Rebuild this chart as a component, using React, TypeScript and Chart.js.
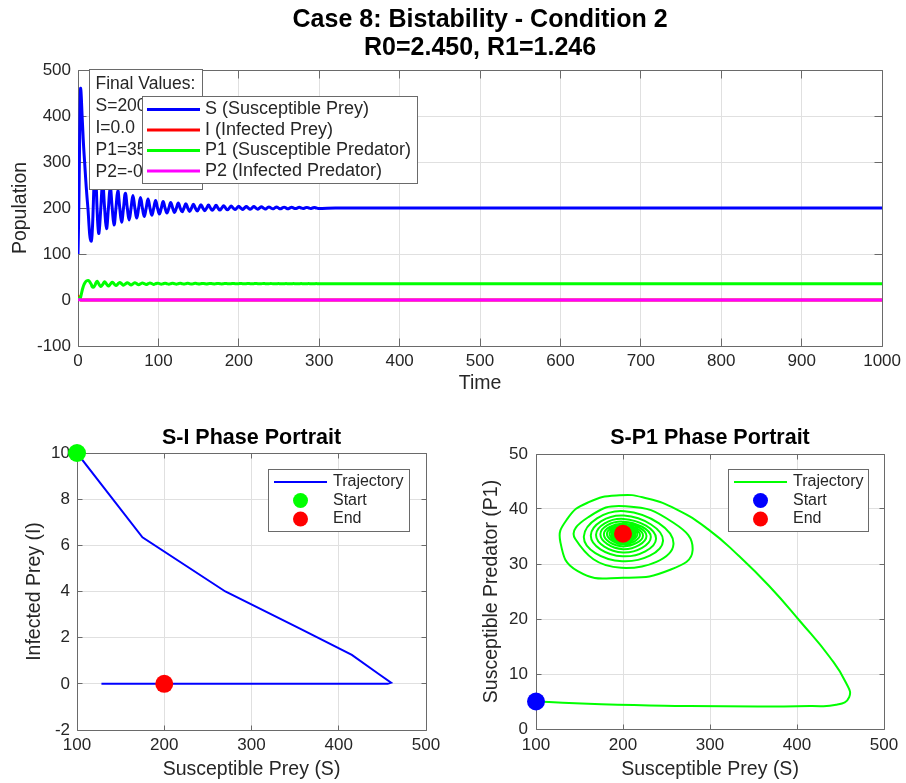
import React, { useEffect, useRef } from 'react';
import { Chart, registerables } from 'chart.js';

Chart.register(...registerables);

const FONT = "'Liberation Sans', Arial, Helvetica, sans-serif";
Chart.defaults.font.family = FONT;

// ---------------- data ----------------
const timeData = [
  0, 0.8, 1.5, 2.1, 2.6, 2.9, 3.2, 3.6, 4.2, 5.0, 6.0, 7.0, 8.3, 9.6, 11.0, 12.5, 13.8, 15.0, 16.5,
  17.7, 18.9, 20.0, 21.2, 22.4, 23.6, 24.8, 26.0,
  28.3, 30.7, 33.0, 35.4,
  37.8, 40.1, 42.5, 44.8,
  47.2, 49.5, 51.9, 54.2,
  56.6, 58.9, 61.3, 63.6,
  66.0, 68.3, 70.7, 73.0,
  75.4, 77.7, 80.1, 82.4,
  84.8, 87.1, 89.5, 91.8,
  94.2, 96.5, 98.9, 101.2,
  103.6, 105.9, 108.3, 110.6,
  113.0, 115.3, 117.7, 120.0,
  122.4, 124.7, 127.1, 129.4,
  131.8, 134.1, 136.5, 138.8,
  141.2, 143.5, 145.9, 148.2,
  150.6, 152.9, 155.3, 157.6,
  160.0, 162.3, 164.7, 167.0,
  169.4, 171.7, 174.1, 176.4,
  178.8, 181.1, 183.5, 185.8,
  188.2, 190.5, 192.9, 195.2,
  197.6, 199.9, 202.3, 204.6,
  207.0, 209.3, 211.7, 214.0,
  216.4, 218.7, 221.1, 223.4,
  225.8, 228.1, 230.5, 232.8,
  235.2, 237.5, 239.9, 242.2,
  244.6, 246.9, 249.3, 251.6,
  254.0, 256.3, 258.7, 261.0,
  263.4, 265.7, 268.1, 270.4,
  272.8, 275.1, 277.5, 279.8,
  282.2, 284.5, 286.9, 289.2,
  291.6, 293.9, 296.3, 298.6,
  320, 400, 600, 800, 1000,
];

const sData = [
  100, 175, 270, 355, 415, 445, 460, 456, 438, 404, 368, 333, 298, 262, 228, 196, 160, 136, 128,
  148, 200, 255, 280, 258, 203, 160, 145,
  198, 258, 202, 155,
  199, 246, 201, 163,
  199.5, 238, 200.5, 169,
  200, 232, 200, 174,
  200, 227, 200, 178,
  200, 223, 200, 181.5,
  200, 219.5, 200, 184.5,
  200, 216.5, 200, 187,
  200, 214, 200, 189,
  200, 212.2, 200, 190.4,
  200, 210.7, 200, 191.6,
  200, 209.4, 200, 192.6,
  200, 208.3, 200, 193.5,
  200, 207.3, 200, 194.2,
  200, 206.5, 200, 194.9,
  200, 205.8, 200, 195.5,
  200, 205.1, 200, 196.0,
  200, 204.5, 200, 196.5,
  200, 204.0, 200, 196.9,
  200, 203.5, 200, 197.2,
  200, 203.1, 200, 197.5,
  200, 202.7, 200, 197.8,
  200, 202.4, 200, 198.1,
  200, 202.1, 200, 198.3,
  200, 201.85, 200, 198.5,
  200, 201.6, 200, 198.7,
  200, 201.4, 200, 198.85,
  200, 201.25, 200, 199.0,
  200, 201.1, 200, 199.1,
  200, 200, 200, 200, 200,
];

const iData = [
  10, 6.35, 4.0, 2.4, 1.25, 0.45, 0.05, 0, 0, 0, 0, 0, 0, 0, 0, 0, 0, 0, 0,
  0, 0, 0, 0, 0, 0, 0, 0,
  0, 0, 0, 0,
  0, 0, 0, 0,
  0, 0, 0, 0,
  0, 0, 0, 0,
  0, 0, 0, 0,
  0, 0, 0, 0,
  0, 0, 0, 0,
  0, 0, 0, 0,
  0, 0, 0, 0,
  0, 0, 0, 0,
  0, 0, 0, 0,
  0, 0, 0, 0,
  0, 0, 0, 0,
  0, 0, 0, 0,
  0, 0, 0, 0,
  0, 0, 0, 0,
  0, 0, 0, 0,
  0, 0, 0, 0,
  0, 0, 0, 0,
  0, 0, 0, 0,
  0, 0, 0, 0,
  0, 0, 0, 0,
  0, 0, 0, 0,
  0, 0, 0, 0,
  0, 0, 0, 0,
  0, 0, 0, 0,
  0, 0, 0, 0,
  0, 0, 0, 0,
  0, 0, 0, 0,
  0, 0, 0, 0, 0,
];

const p1Data = [
  5, 4.5, 4.2, 4.1, 4.2, 4.4, 5.8, 8.5, 13, 19.5, 26, 31.5, 36.3, 39.9, 41.9, 42.5, 41.2, 38.2, 34,
  28.7, 27.5, 29.0, 32.5, 37.5, 40.5, 38.5, 34.6,
  29.3, 33.6, 39.6, 35.0,
  30.5, 34.2, 38.8, 35.2,
  31.4, 34.6, 38.2, 35.3,
  32.1, 34.9, 37.7, 35.4,
  32.7, 35.1, 37.3, 35.4,
  33.2, 35.2, 37.0, 35.5,
  33.6, 35.3, 36.75, 35.5,
  33.9, 35.4, 36.55, 35.5,
  34.2, 35.4, 36.4, 35.5,
  34.35, 35.5, 36.35, 35.5,
  34.5, 35.5, 36.25, 35.5,
  34.62, 35.5, 36.22, 35.5,
  34.74, 35.5, 36.15, 35.5,
  34.83, 35.5, 36.08, 35.5,
  34.91, 35.5, 36.01, 35.5,
  34.98, 35.5, 35.96, 35.5,
  35.05, 35.5, 35.92, 35.5,
  35.1, 35.5, 35.86, 35.5,
  35.15, 35.5, 35.83, 35.5,
  35.19, 35.5, 35.79, 35.5,
  35.23, 35.5, 35.76, 35.5,
  35.26, 35.5, 35.73, 35.5,
  35.29, 35.5, 35.7, 35.5,
  35.32, 35.5, 35.68, 35.5,
  35.34, 35.5, 35.66, 35.5,
  35.36, 35.5, 35.64, 35.5,
  35.38, 35.5, 35.62, 35.5,
  35.4, 35.5, 35.61, 35.5,
  35.41, 35.5, 35.6, 35.5,
  35.5, 35.5, 35.5, 35.5, 35.5,
];

const p2Data = [
  1, 0.8, 0.6, 0.5, 0.4, 0.35, 0.3, 0.25, 0.2, 0.15, 0.1, 0.08, 0.05, 0.03, 0.02, 0.01, 0, 0, 0,
  0, 0, 0, 0, 0, 0, 0, 0,
  0, 0, 0, 0,
  0, 0, 0, 0,
  0, 0, 0, 0,
  0, 0, 0, 0,
  0, 0, 0, 0,
  0, 0, 0, 0,
  0, 0, 0, 0,
  0, 0, 0, 0,
  0, 0, 0, 0,
  0, 0, 0, 0,
  0, 0, 0, 0,
  0, 0, 0, 0,
  0, 0, 0, 0,
  0, 0, 0, 0,
  0, 0, 0, 0,
  0, 0, 0, 0,
  0, 0, 0, 0,
  0, 0, 0, 0,
  0, 0, 0, 0,
  0, 0, 0, 0,
  0, 0, 0, 0,
  0, 0, 0, 0,
  0, 0, 0, 0,
  0, 0, 0, 0,
  0, 0, 0, 0,
  0, 0, 0, 0,
  0, 0, 0, 0,
  0, 0, 0, 0,
  0, 0, 0, 0,
  0, 0, 0, 0, 0,
];

const seriesLabels = ['S (Susceptible Prey)', 'I (Infected Prey)', 'P1 (Susceptible Predator)', 'P2 (Infected Predator)'];
const seriesColors = ['#0000ff', '#ff0000', '#00ff00', '#ff00ff'];
const finalValueLines = ['Final Values:', 'S=200.0', 'I=0.0', 'P1=35.5', 'P2=-0.0'];
const mainTitle = ['Case 8: Bistability - Condition 2', 'R0=2.450, R1=1.246'];

// ---------------- styling ----------------
const TEXT = '#262626';
const GRID = '#e0e0e0';
const BOX = '#6a6a6a';
const TICK_SIZE = 17;
const LABEL_SIZE = 19.5;

const toPoints = (xs: number[], ys: number[]) => xs.map((x, i) => ({ x, y: ys[i] }));
const last = timeData.length - 1;

function linAxis(o: any) {
  return {
    type: 'linear',
    min: o.min,
    max: o.max,
    ticks: {
      stepSize: o.step,
      padding: o.tickPad,
      color: TEXT,
      font: { size: TICK_SIZE, family: FONT },
      maxRotation: 0,
      autoSkip: false,
      callback: (v: any) => String(v),
    },
    grid: { color: GRID, drawTicks: false, lineWidth: 1 },
    border: { display: false },
    title: {
      display: true,
      text: o.title,
      color: TEXT,
      font: { size: LABEL_SIZE, family: FONT },
      padding: o.titlePad,
    },
    afterFit: (s: any) => {
      if (o.isX) s.height = o.size;
      else s.width = o.size;
    },
  };
}

function decorPlugin(cfg: any) {
  const al = (p: number) => Math.round(p - 0.5) + 0.5;
  return {
    id: 'matlabDecor',
    beforeDatasetsDraw(chart: any) {
      const { ctx, chartArea: a, scales } = chart;
      ctx.save();
      ctx.strokeStyle = BOX;
      ctx.lineWidth = 1;
      const l = al(a.left), r = al(a.right), t = al(a.top), b = al(a.bottom);
      ctx.beginPath();
      ctx.rect(l, t, r - l, b - t);
      const tl = cfg.tickLen;
      for (const tk of scales.x.ticks) {
        const p = al(scales.x.getPixelForValue(tk.value));
        ctx.moveTo(p, b); ctx.lineTo(p, b - tl);
        ctx.moveTo(p, t); ctx.lineTo(p, t + tl);
      }
      for (const tk of scales.y.ticks) {
        const p = al(scales.y.getPixelForValue(tk.value));
        ctx.moveTo(l, p); ctx.lineTo(l + tl, p);
        ctx.moveTo(r, p); ctx.lineTo(r - tl, p);
      }
      ctx.stroke();
      ctx.restore();
    },
    afterDatasetsDraw(chart: any) {
      const { ctx } = chart;
      ctx.save();
      const tb = cfg.textBox;
      if (tb) {
        ctx.fillStyle = '#fff';
        ctx.fillRect(tb.x, tb.y, tb.w, tb.h);
        ctx.strokeStyle = BOX;
        ctx.lineWidth = 1;
        ctx.strokeRect(tb.x + 0.5, tb.y + 0.5, tb.w, tb.h);
        ctx.font = `${tb.fontSize}px ${FONT}`;
        ctx.textBaseline = 'middle';
        ctx.textAlign = 'left';
        ctx.fillStyle = TEXT;
        tb.lines.forEach((s: string, i: number) => ctx.fillText(s, tb.textX, tb.rowY[i]));
      }
      const lg = cfg.legend;
      if (lg) {
        ctx.fillStyle = '#fff';
        ctx.fillRect(lg.x, lg.y, lg.w, lg.h);
        ctx.strokeStyle = BOX;
        ctx.lineWidth = 1;
        ctx.strokeRect(lg.x + 0.5, lg.y + 0.5, lg.w, lg.h);
        ctx.font = `${lg.fontSize}px ${FONT}`;
        ctx.textBaseline = 'middle';
        ctx.textAlign = 'left';
        const items = chart.data.datasets.filter((d: any) => d.label);
        items.forEach((d: any, i: number) => {
          const y = lg.rowY[i];
          if (d.showLine) {
            ctx.strokeStyle = d.borderColor;
            ctx.lineWidth = lg.lineWidth;
            ctx.beginPath();
            ctx.moveTo(lg.lineX0, y);
            ctx.lineTo(lg.lineX1, y);
            ctx.stroke();
          } else {
            ctx.fillStyle = d.backgroundColor;
            ctx.beginPath();
            ctx.arc((lg.lineX0 + lg.lineX1) / 2, y, lg.markerR, 0, Math.PI * 2);
            ctx.fill();
          }
          ctx.fillStyle = TEXT;
          ctx.fillText(d.label, lg.textX, y);
        });
      }
      ctx.restore();
    },
  };
}

const baseOptions = {
  responsive: false,
  animation: false,
  devicePixelRatio: 1,
  events: [],
};

function makeTopConfig(): any {
  const lineDs = (k: number, ys: number[], order: number) => ({
    label: seriesLabels[k],
    data: toPoints(timeData, ys),
    borderColor: seriesColors[k],
    backgroundColor: seriesColors[k],
    showLine: true,
    pointRadius: 0,
    borderWidth: 3,
    tension: 0.4,
    order,
  });
  return {
    type: 'scatter',
    data: {
      datasets: [lineDs(0, sData, 4), lineDs(1, iData, 3), lineDs(2, p1Data, 2), lineDs(3, p2Data, 1)],
    },
    options: {
      ...baseOptions,
      layout: { padding: { left: 0, right: 22, top: 0, bottom: 0 } },
      plugins: {
        legend: { display: false },
        tooltip: { enabled: false },
        title: {
          display: true,
          text: mainTitle,
          color: '#000',
          fullSize: false,
          font: { size: 25, weight: 'bold', family: FONT, lineHeight: '28px' },
          padding: { top: 6, bottom: 8 },
        },
      },
      scales: {
        x: linAxis({ min: 0, max: 1000, step: 100, tickPad: 5, title: 'Time', titlePad: { top: 0, bottom: 4.6 }, isX: true, size: 54 }),
        y: linAxis({ min: -100, max: 500, step: 100, tickPad: 7, title: 'Population', titlePad: { top: 8.6, bottom: 0 }, isX: false, size: 78 }),
      },
    },
    plugins: [
      decorPlugin({
        tickLen: 8,
        textBox: { x: 89, y: 69, w: 113, h: 120, textX: 95.5, rowY: [84.5, 106.5, 128.5, 150.5, 172.5], fontSize: 17.5, lines: finalValueLines },
        legend: { x: 142, y: 96, w: 275, h: 87, lineX0: 147, lineX1: 200, textX: 205, rowY: [109.5, 130, 150.5, 171], fontSize: 18, lineWidth: 3, markerR: 8 },
      }),
    ],
  };
}

function makePhaseConfig(o: any): any {
  return {
    type: 'scatter',
    data: {
      datasets: [
        { label: 'Trajectory', data: toPoints(sData, o.ys), borderColor: o.lineColor, backgroundColor: o.lineColor, showLine: true, pointRadius: 0, borderWidth: 2, tension: o.tension, order: 3 },
        { label: 'Start', data: [{ x: sData[0], y: o.ys[0] }], borderColor: o.startColor, backgroundColor: o.startColor, showLine: false, pointRadius: 9, pointBorderWidth: 0, clip: false, order: 2 },
        { label: 'End', data: [{ x: sData[last], y: o.ys[last] }], borderColor: '#ff0000', backgroundColor: '#ff0000', showLine: false, pointRadius: 9, pointBorderWidth: 0, clip: false, order: 1 },
      ],
    },
    options: {
      ...baseOptions,
      layout: { padding: { left: 0, right: o.padRight, top: 0, bottom: 0 } },
      plugins: {
        legend: { display: false },
        tooltip: { enabled: false },
        title: {
          display: true,
          text: o.title,
          color: '#000',
          fullSize: false,
          font: { size: 21.5, weight: 'bold', family: FONT, lineHeight: 1.2 },
          padding: { top: 25.6, bottom: o.titleBottom },
        },
      },
      scales: {
        x: linAxis({ min: 100, max: 500, step: 100, tickPad: o.xTickPad, title: 'Susceptible Prey (S)', titlePad: { top: 0, bottom: 1.6 }, isX: true, size: o.xSize }),
        y: linAxis({ min: o.yMin, max: o.yMax, step: o.yStep, tickPad: o.yTickPad, title: o.yTitle, titlePad: { top: o.yTitlePad, bottom: 0 }, isX: false, size: o.ySize }),
      },
    },
    plugins: [
      decorPlugin({
        tickLen: 5,
        legend: { x: o.lgX, y: 69, w: o.lgW, h: 62, lineX0: o.lgX + 6, lineX1: o.lgX + 59, textX: o.lgX + 65, rowY: [82, 100.5, 119], fontSize: 16, lineWidth: 2, markerR: 7.5 },
      }),
    ],
  };
}

const makeSIConfig = () =>
  makePhaseConfig({
    ys: iData, lineColor: '#0000ff', startColor: '#00ff00', tension: 0,
    title: 'S-I Phase Portrait', padRight: 27, titleBottom: 1.6,
    xTickPad: 5, xSize: 53,
    yMin: -2, yMax: 10, yStep: 2, yTickPad: 7, yTitle: 'Infected Prey (I)', yTitlePad: 23.1, ySize: 77,
    lgX: 268, lgW: 141,
  });

const makeSPConfig = () =>
  makePhaseConfig({
    ys: p1Data, lineColor: '#00ff00', startColor: '#0000ff', tension: 0.5,
    title: 'S-P1 Phase Portrait', padRight: 22, titleBottom: 2.6,
    xTickPad: 6.3, xSize: 54,
    yMin: 0, yMax: 50, yStep: 10, yTickPad: 8, yTitle: 'Susceptible Predator (P1)', yTitlePad: 27.1, ySize: 83,
    lgX: 275, lgW: 140,
  });

function ChartCanvas({ make, left, top, width, height }: any) {
  const ref = useRef<HTMLCanvasElement | null>(null);
  useEffect(() => {
    if (!ref.current) return;
    const chart = new Chart(ref.current, make());
    return () => chart.destroy();
  }, []);
  return (
    <canvas
      ref={ref}
      width={width}
      height={height}
      style={{ position: 'absolute', left, top, width, height, display: 'block' }}
    />
  );
}

export default function App() {
  return (
    <div style={{ position: 'fixed', left: 0, top: 0, width: 906, height: 783, background: '#ffffff', overflow: 'hidden' }}>
      <ChartCanvas make={makeTopConfig} left={0} top={0} width={906} height={400} />
      <ChartCanvas make={makeSIConfig} left={0} top={400} width={453} height={383} />
      <ChartCanvas make={makeSPConfig} left={453} top={400} width={453} height={383} />
    </div>
  );
}
